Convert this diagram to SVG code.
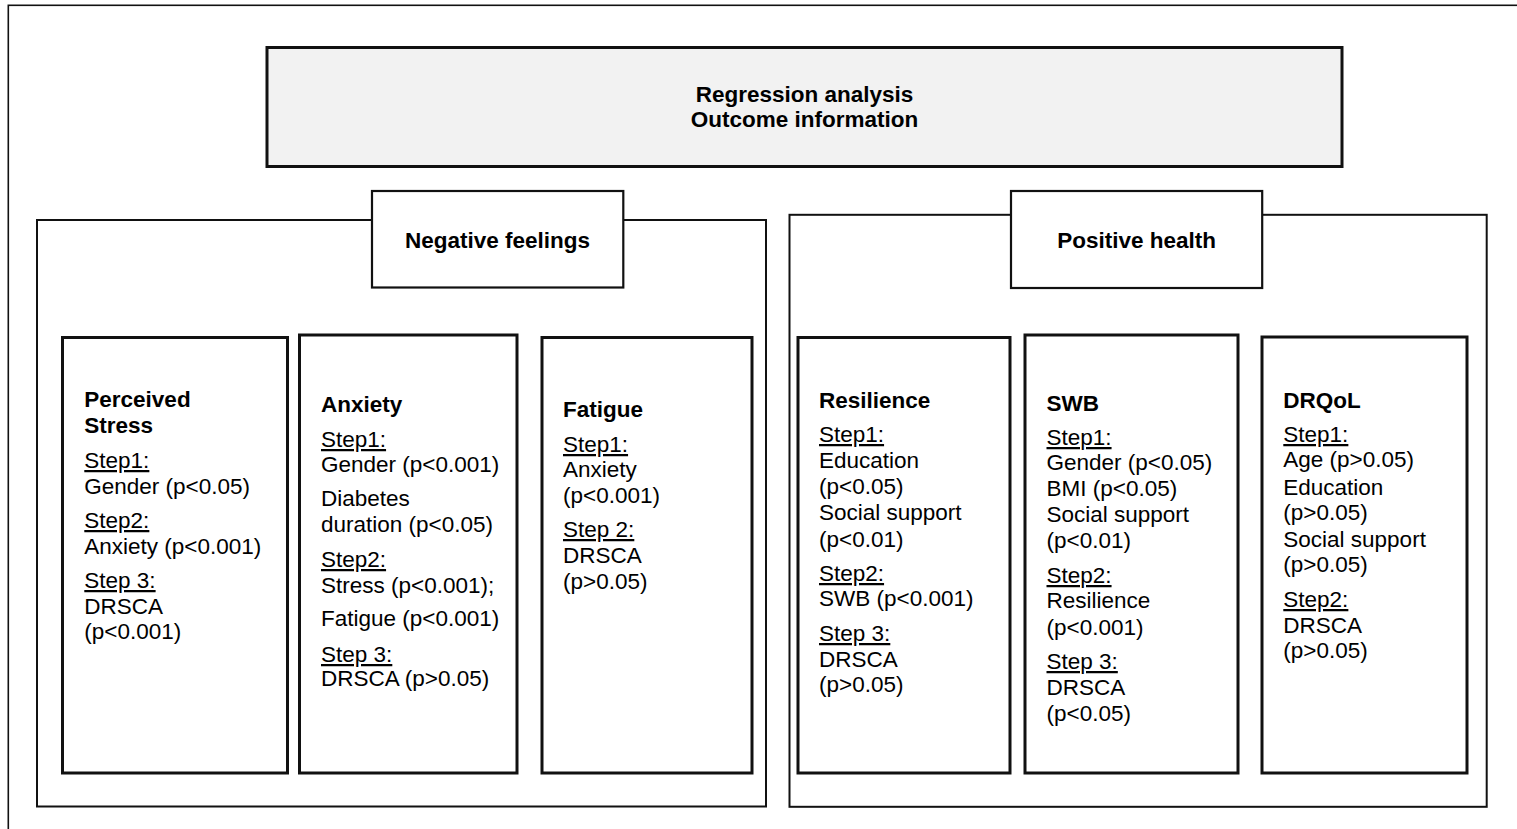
<svg xmlns="http://www.w3.org/2000/svg" width="1517" height="829" viewBox="0 0 1517 829">
<style>
  text { font-family: "Liberation Sans", Arial, sans-serif; font-size: 22.5px; fill: #000; }
  .b { font-weight: bold; }
  .u { text-decoration: underline; }
  .c { text-anchor: middle; }
  .frame { fill: none; stroke: #111; stroke-width: 1.6; }
  .panel { fill: none; stroke: #111; stroke-width: 2; }
  .head { fill: #fff; stroke: #111; stroke-width: 2.2; }
  .inner { fill: #fff; stroke: #111; stroke-width: 3; }
  .top { fill: #f2f2f2; stroke: #111; stroke-width: 3; }
</style>
<rect x="0" y="0" width="1517" height="829" fill="#fff"/>
<rect class="frame" x="8.3" y="5.3" width="1600" height="900"/>

<g id="top">
  <rect class="top" x="267" y="47.5" width="1075" height="119"/>
  <text class="b c" x="804.5" y="101.7">Regression analysis</text>
  <text class="b c" x="804.5" y="126.7">Outcome information</text>
</g>

<g id="panel-negative">
  <rect class="panel" x="37" y="220" width="729" height="586.5"/>
</g>
<g id="panel-positive">
  <rect class="panel" x="789.5" y="214.8" width="697.2" height="592"/>
</g>

<g id="negative-feelings">
  <rect class="head" x="372" y="191" width="251.3" height="96.5"/>
  <text class="b c" x="497.5" y="248.3">Negative feelings</text>
</g>
<g id="positive-health">
  <rect class="head" x="1011" y="191" width="251.2" height="97"/>
  <text class="b c" x="1136.6" y="248.3">Positive health</text>
</g>

<g id="perceived-stress">
  <rect class="inner" x="62.5" y="337.5" width="225" height="435.5"/>
  <text class="b" x="84.3" y="407">Perceived</text>
  <text class="b" x="84.3" y="433">Stress</text>
  <text class="u" x="84.3" y="468">Step1:</text>
  <text x="84.3" y="494">Gender (p&lt;0.05)</text>
  <text class="u" x="84.3" y="528">Step2:</text>
  <text x="84.3" y="554">Anxiety (p&lt;0.001)</text>
  <text class="u" x="84.3" y="588">Step 3:</text>
  <text x="84.3" y="614">DRSCA</text>
  <text x="84.3" y="638.5">(p&lt;0.001)</text>
</g>

<g id="anxiety">
  <rect class="inner" x="299.5" y="335" width="217.5" height="438"/>
  <text class="b" x="321" y="412">Anxiety</text>
  <text class="u" x="321" y="447">Step1:</text>
  <text x="321" y="472">Gender (p&lt;0.001)</text>
  <text x="321" y="506">Diabetes</text>
  <text x="321" y="532">duration (p&lt;0.05)</text>
  <text class="u" x="321" y="567">Step2:</text>
  <text x="321" y="593">Stress (p&lt;0.001);</text>
  <text x="321" y="626">Fatigue (p&lt;0.001)</text>
  <text class="u" x="321" y="662">Step 3:</text>
  <text x="321" y="686">DRSCA (p&gt;0.05)</text>
</g>

<g id="fatigue">
  <rect class="inner" x="542" y="337.5" width="210" height="435.5"/>
  <text class="b" x="563" y="417">Fatigue</text>
  <text class="u" x="563" y="452">Step1:</text>
  <text x="563" y="477">Anxiety</text>
  <text x="563" y="503">(p&lt;0.001)</text>
  <text class="u" x="563" y="537">Step 2:</text>
  <text x="563" y="563">DRSCA</text>
  <text x="563" y="589">(p&gt;0.05)</text>
</g>

<g id="resilience">
  <rect class="inner" x="798" y="337.5" width="212" height="435.5"/>
  <text class="b" x="819" y="408">Resilience</text>
  <text class="u" x="819" y="442">Step1:</text>
  <text x="819" y="468">Education</text>
  <text x="819" y="494">(p&lt;0.05)</text>
  <text x="819" y="519.5">Social support</text>
  <text x="819" y="547">(p&lt;0.01)</text>
  <text class="u" x="819" y="581">Step2:</text>
  <text x="819" y="606">SWB (p&lt;0.001)</text>
  <text class="u" x="819" y="641">Step 3:</text>
  <text x="819" y="667">DRSCA</text>
  <text x="819" y="692">(p&gt;0.05)</text>
</g>

<g id="swb">
  <rect class="inner" x="1025" y="335" width="213" height="438"/>
  <text class="b" x="1046.5" y="411">SWB</text>
  <text class="u" x="1046.5" y="445">Step1:</text>
  <text x="1046.5" y="470">Gender (p&lt;0.05)</text>
  <text x="1046.5" y="496">BMI (p&lt;0.05)</text>
  <text x="1046.5" y="522">Social support</text>
  <text x="1046.5" y="548">(p&lt;0.01)</text>
  <text class="u" x="1046.5" y="583">Step2:</text>
  <text x="1046.5" y="608">Resilience</text>
  <text x="1046.5" y="635">(p&lt;0.001)</text>
  <text class="u" x="1046.5" y="669">Step 3:</text>
  <text x="1046.5" y="695">DRSCA</text>
  <text x="1046.5" y="721">(p&lt;0.05)</text>
</g>

<g id="drqol">
  <rect class="inner" x="1262" y="337" width="205" height="436"/>
  <text class="b" x="1283.3" y="408">DRQoL</text>
  <text class="u" x="1283.3" y="442">Step1:</text>
  <text x="1283.3" y="467">Age (p&gt;0.05)</text>
  <text x="1283.3" y="495">Education</text>
  <text x="1283.3" y="520">(p&gt;0.05)</text>
  <text x="1283.3" y="547">Social support</text>
  <text x="1283.3" y="572">(p&gt;0.05)</text>
  <text class="u" x="1283.3" y="607">Step2:</text>
  <text x="1283.3" y="633">DRSCA</text>
  <text x="1283.3" y="658">(p&gt;0.05)</text>
</g>

<g id="connectors"></g>
</svg>
